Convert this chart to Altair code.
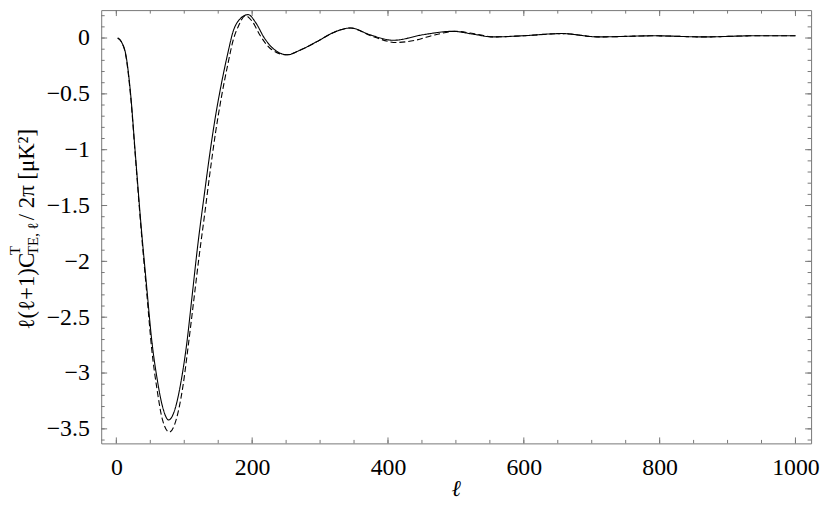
import altair as alt
import pandas as pd

# ---- data ----
ell_solid = [2, 8, 14, 21, 28, 36, 45, 52, 60, 68, 77, 86, 96, 104, 111, 120, 130, 138, 146, 155,
             164, 172, 182, 194, 205, 218, 232, 252, 270, 296, 320, 345, 373, 408, 452, 495, 525,
             554, 598, 656, 710, 792, 865, 938, 1000]
cl_solid = [0.0, -0.04, -0.15, -0.5, -1.04, -1.65, -2.25, -2.7, -3.05, -3.3, -3.42, -3.33, -3.05,
            -2.72, -2.34, -1.85, -1.38, -1.02, -0.70, -0.40, -0.14, 0.06, 0.17, 0.21, 0.14, 0.0,
            -0.1, -0.15, -0.11, -0.03, 0.05, 0.09, 0.03, -0.02, 0.03, 0.06, 0.035, 0.01, 0.02,
            0.04, 0.01, 0.02, 0.01, 0.02, 0.02]

ell_dash = [2, 8, 14, 21, 28, 36, 45, 52, 60, 68, 78, 88, 98, 106, 114, 122, 130, 138, 146, 155,
            164, 172, 180, 190, 200, 212, 228, 250, 270, 296, 320, 345, 375, 412, 440, 470, 500,
            530, 556, 600, 656, 710, 792, 865, 938, 1000]
cl_dash = [0.0, -0.04, -0.16, -0.52, -1.06, -1.68, -2.3, -2.78, -3.15, -3.42, -3.53, -3.42, -3.12,
           -2.75, -2.35, -1.95, -1.58, -1.2, -0.85, -0.52, -0.24, -0.02, 0.11, 0.2, 0.15, 0.02,
           -0.1, -0.15, -0.11, -0.03, 0.05, 0.09, 0.02, -0.04, -0.02, 0.03, 0.06, 0.035, 0.01,
           0.02, 0.04, 0.01, 0.02, 0.01, 0.02, 0.02]

x_major = [0, 200, 400, 600, 800, 1000]
x_minor = [v for v in range(0, 1001, 50)]
y_major = [0, -0.5, -1, -1.5, -2, -2.5, -3, -3.5]
y_minor = [round(-3.6 + 0.1 * i, 2) for i in range(39)]

# ---- layout ----
W, H = 716, 437
XDOM = [-22.3, 1023]
YDOM = [-3.63, 0.25]
FONT = "Liberation Serif"
FRAME = "#777777"
MAJ, MIN = 6, 3.5

df = pd.concat([
    pd.DataFrame({"ell": ell_solid, "cl": cl_solid, "series": "solid"}),
    pd.DataFrame({"ell": ell_dash, "cl": cl_dash, "series": "dashed"}),
])

xs = alt.Scale(domain=XDOM, nice=False, zero=False)
ys = alt.Scale(domain=YDOM, nice=False, zero=False)

x_axis = alt.Axis(values=x_major, ticks=False, domain=False, grid=False,
                  labelFont=FONT, labelFontSize=24, labelPadding=12,
                  labelColor="black", title=None, format="d")
y_axis = alt.Axis(values=y_major, ticks=False, domain=False, grid=False,
                  labelFont=FONT, labelFontSize=24, labelPadding=12,
                  labelColor="black", title=None, format="~g")

lines = alt.Chart(df).mark_line(color="black", strokeWidth=1.1, interpolate="monotone", clip=True).encode(
    x=alt.X("ell:Q", scale=xs, axis=x_axis),
    y=alt.Y("cl:Q", scale=ys, axis=y_axis),
    strokeDash=alt.StrokeDash("series:N", scale=alt.Scale(domain=["solid", "dashed"], range=[[1, 0], [6, 3]]),
                              legend=None),
)


def xticks(vals, length, top):
    d = pd.DataFrame({"v": vals})
    if top:
        yy, yy2 = 0, length
    else:
        yy, yy2 = H, H - length
    return alt.Chart(d).mark_rule(color=FRAME, strokeWidth=1).encode(
        x=alt.X("v:Q", scale=xs, axis=x_axis), y=alt.value(yy), y2=alt.value(yy2))


def yticks(vals, length, right):
    d = pd.DataFrame({"v": vals})
    if right:
        xx, xx2 = W, W - length
    else:
        xx, xx2 = 0, length
    return alt.Chart(d).mark_rule(color=FRAME, strokeWidth=1).encode(
        y=alt.Y("v:Q", scale=ys, axis=y_axis), x=alt.value(xx), x2=alt.value(xx2))


one = alt.Data(values=[{"a": 1}])


def txt(s, x, y, size, angle=270, style="normal", align="left"):
    return alt.Chart(one).mark_text(text=s, angle=angle, align=align, baseline="alphabetic", font=FONT,
                                    fontSize=size, fontStyle=style, color="black").encode(
        x=alt.value(x), y=alt.value(y))


title_layers = [
    txt("ℓ(ℓ+1)C", -68, 322, 23),
    txt("T", -82, 247, 15),
    txt("TE, ℓ", -64, 247, 15),
    txt("/ 2π [μK²]", -68, 212, 23),
    txt("ℓ", 358, H + 53, 23, angle=0, style="italic", align="center"),
]

chart = alt.layer(
    lines,
    xticks(x_minor, MIN, False), xticks(x_major, MAJ, False),
    xticks(x_minor, MIN, True), xticks(x_major, MAJ, True),
    yticks(y_minor, MIN, False), yticks(y_major, MAJ, False),
    yticks(y_minor, MIN, True), yticks(y_major, MAJ, True),
    *title_layers,
).properties(
    width=W, height=H,
    autosize=alt.AutoSizeParams(type="none"),
    padding={"left": 94, "top": 0, "right": 10, "bottom": 58},
).configure_view(stroke=FRAME, strokeWidth=1)

chart.save("out.html", embed_options={"renderer": "svg", "actions": False})
